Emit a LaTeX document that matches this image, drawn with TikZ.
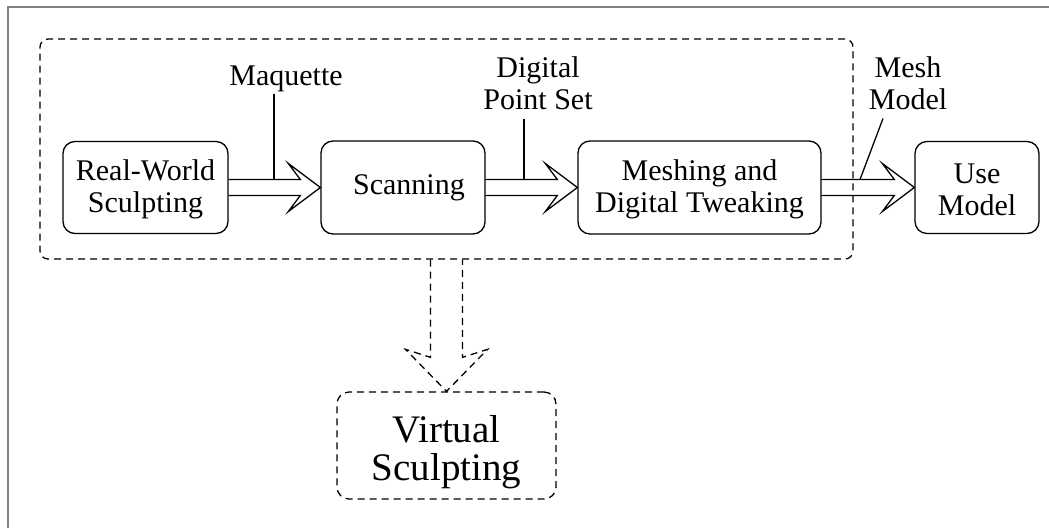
\documentclass[tikz,border=0pt]{standalone}
\usepackage{fontspec}
\setmainfont{Liberation Serif}
\usetikzlibrary{calc}
\newcommand\stagefont{\fontsize{30}{31.5}\selectfont}
\newcommand\bigstagefont{\fontsize{39}{38}\selectfont}
% hollow block arrow from the east side of #1 to the west side of #2
\newcommand\hollowarrow[2]{%
  \draw[blockarrow] ($(#1.east)+(0,-8)$) -- ($(#2.west)+(-20,-8)$)
    -- ($(#2.west)+(-32,-24)$) -- (#2.west) -- ($(#2.west)+(-32,24)$)
    -- ($(#2.west)+(-20,8)$) -- ($(#1.east)+(0,8)$);}
\begin{document}
\begin{tikzpicture}[x=1pt,y=-1pt,
  stagebox/.style={draw, line width=1.3pt, rounded corners=12pt,
    font=\stagefont, align=center, inner sep=0pt},
  dashline/.style={line width=1.3pt, dash pattern=on 7pt off 5pt},
  tag/.style={font=\stagefont, align=center, inner sep=0pt},
  leader/.style={line width=1.3pt},
  blockarrow/.style={line width=1.3pt, line join=miter},
  frameline/.style={draw=black!50, line width=1.3pt}]
\useasboundingbox (0,0) rectangle (1049,528);

% outer frame
\draw[frameline] (8,528) -- (8,7) -- (1049,7);

% dashed region enclosing the physical pipeline
\node[draw, dashline, rounded corners=8pt, minimum width=813pt, minimum height=220pt,
  inner sep=0pt] (reg) at (446.5,149) {};

% stages
\node[stagebox, minimum width=165pt, minimum height=92pt] (rw) at (145.5,187.5) {\rule{0pt}{24pt}Real-World\\Sculpting};
\node[stagebox, minimum width=164pt, minimum height=93pt] (sc) at (403,187.5) {\hspace*{12pt}Scanning};
\node[stagebox, minimum width=243pt, minimum height=93pt] (mdt) at (699.5,187.5) {\rule{0pt}{24pt}Meshing and\\Digital Tweaking};
\node[stagebox, minimum width=124pt, minimum height=92pt] (use) at (977,187.5) {\rule{0pt}{24pt}Use\\Model};
\node[stagebox, dashline, font=\bigstagefont, minimum width=219pt, minimum height=107pt] (vs) at (446.5,445.5) {\rule{0pt}{40pt}Virtual\\Sculpting};

% flow arrows
\hollowarrow{rw}{sc}
\hollowarrow{sc}{mdt}
\hollowarrow{mdt}{use}

\draw[blockarrow, dashline] ($(reg.south)+(-16,0)$) -- ($(vs.north)+(-16,-34)$)
  -- ($(vs.north)+(-41,-42)$) -- (vs.north) -- ($(vs.north)+(41,-42)$)
  -- ($(vs.north)+(16,-34)$) -- ($(reg.south)+(16,0)$);

% data labels with leader lines
\node[tag] (maq) at (286,79) {Maquette};
\node[tag] (dps) at (538,83) {Digital\\Point Set};
\node[tag] (mm) at (908,83) {Mesh\\Model};
\coordinate (m1) at (274,179.5);
\coordinate (d1) at (524,179.5);
\coordinate (m3) at (860,179.5);
\draw[leader] ([yshift=-1.5pt]maq.south -| m1) -- (m1);
\draw[leader] ([yshift=-9pt]dps.south -| d1) -- (d1);
\draw[leader] ([xshift=-25pt,yshift=-9pt]mm.south) -- (m3);
\end{tikzpicture}
\end{document}
